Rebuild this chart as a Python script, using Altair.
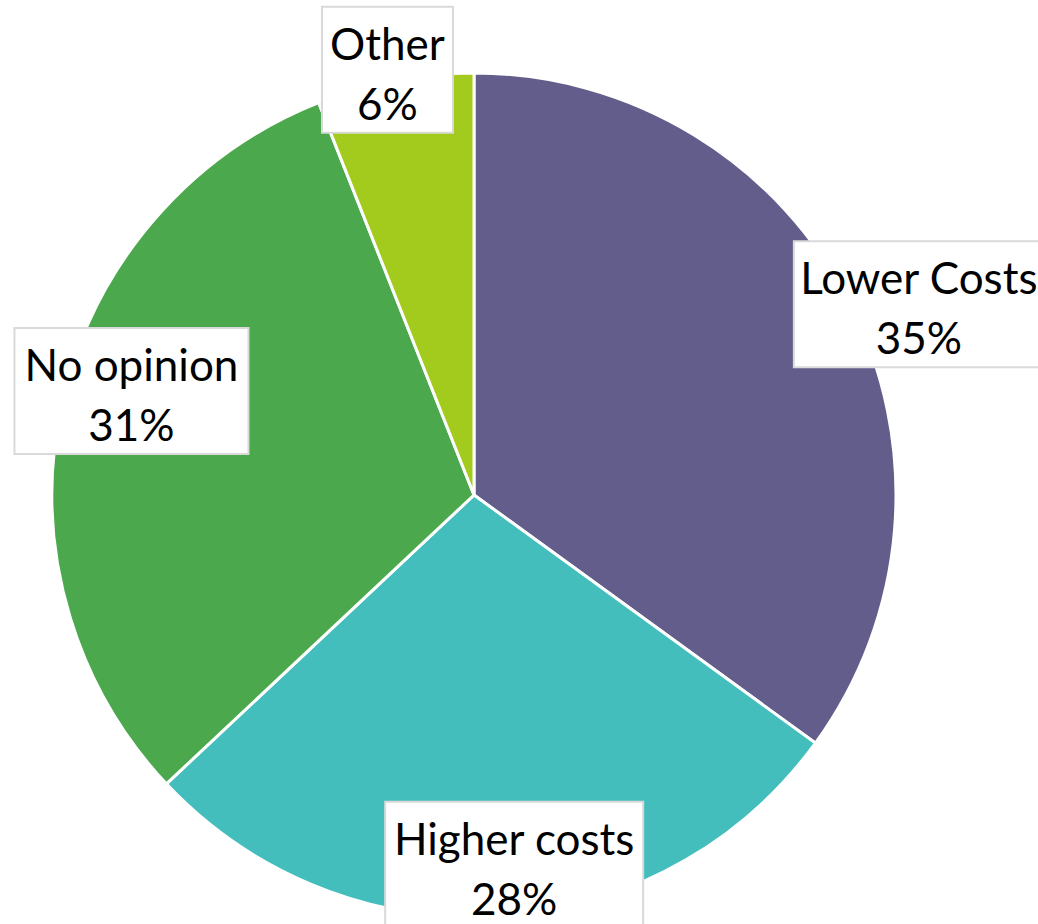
import altair as alt
import pandas as pd

categories = ["Lower Costs", "Higher costs", "No opinion", "Other"]
values = [35, 28, 31, 6]
colors = ["#635D8C", "#43BEBC", "#4BA84D", "#A2CB1E"]

# label layout (annotation placement only)
label_radius = [484, 372, 358, 434]
label_shift_deg = [3.8, -2.6, 4.3, -0.7]
box_width = [250, 258, 234, 131]

CX, CY, R = 474, 495, 422
BOX_H = 126
LINE_H = 60

df = pd.DataFrame({
    "category": categories,
    "value": values,
    "idx": list(range(len(categories))),
    "label": [f"{c}\n{v}%" for c, v in zip(categories, values)],
    "lr": label_radius,
    "shift": label_shift_deg,
    "bw": box_width,
})

base = alt.Chart(df)

pie = base.mark_arc(radius=R, stroke="white", strokeWidth=3).encode(
    theta=alt.Theta("value:Q", stack=True),
    color=alt.Color("category:N", scale=alt.Scale(domain=categories, range=colors), legend=None),
    order=alt.Order("idx:Q"),
    x=alt.value(CX),
    y=alt.value(CY),
)

lab = base.transform_window(
    cum="sum(value)", sort=[alt.SortField("idx")]
).transform_joinaggregate(
    total="sum(value)"
).transform_calculate(
    mid="(datum.cum - datum.value/2)/datum.total*2*PI + datum.shift*PI/180"
).transform_calculate(
    lx=f"{CX} + datum.lr*sin(datum.mid)",
    ly=f"{CY} - datum.lr*cos(datum.mid)",
).transform_calculate(
    bx1="datum.lx - datum.bw/2",
    bx2="datum.lx + datum.bw/2",
    by1=f"datum.ly - {BOX_H/2}",
    by2=f"datum.ly + {BOX_H/2}",
)

boxes = lab.mark_rect(fill="white", stroke="#D9D9D9", strokeWidth=2).encode(
    x=alt.X("bx1:Q", scale=None, axis=None),
    x2="bx2:Q",
    y=alt.Y("by1:Q", scale=None, axis=None),
    y2="by2:Q",
)

texts = lab.mark_text(
    font="Lato", fontSize=44, lineBreak="\n", lineHeight=LINE_H,
    align="center", baseline="middle", color="black", dy=-LINE_H / 2 + 7,
).encode(
    x=alt.X("lx:Q", scale=None, axis=None),
    y=alt.Y("ly:Q", scale=None, axis=None),
    text="label:N",
)

chart = alt.layer(pie, boxes, texts).properties(
    width=1038, height=924, autosize="none", padding=0
).configure_view(stroke=None, strokeWidth=0)

chart.save("out.html", embed_options={"renderer": "svg", "actions": False})
